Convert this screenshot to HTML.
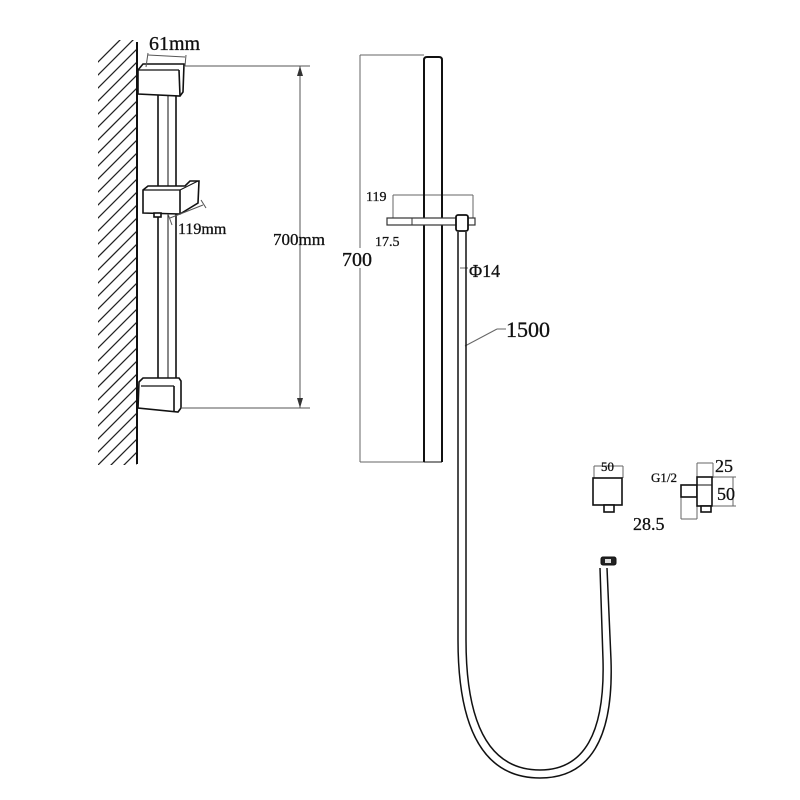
<!DOCTYPE html>
<html><head><meta charset="utf-8"><style>
html,body{margin:0;padding:0;background:#fff}
svg{display:block}
text{font-family:"Liberation Serif","DejaVu Serif",serif;fill:#111;stroke:#111;stroke-width:0.3}
</style></head><body>
<svg width="800" height="800" viewBox="0 0 800 800" xmlns="http://www.w3.org/2000/svg">
<defs>
<clipPath id="wc"><rect x="98" y="40" width="39" height="425"/></clipPath>
</defs>
<g clip-path="url(#wc)" stroke="#222" stroke-width="1.3">
<path d="M90,70 L140,20 M90,83 L140,33 M90,96 L140,46 M90,109 L140,59 M90,122 L140,72 M90,135 L140,85 M90,148 L140,98 M90,161 L140,111 M90,174 L140,124 M90,187 L140,137 M90,200 L140,150 M90,213 L140,163 M90,226 L140,176 M90,239 L140,189 M90,252 L140,202 M90,265 L140,215 M90,278 L140,228 M90,291 L140,241 M90,304 L140,254 M90,317 L140,267 M90,330 L140,280 M90,343 L140,293 M90,356 L140,306 M90,369 L140,319 M90,382 L140,332 M90,395 L140,345 M90,408 L140,358 M90,421 L140,371 M90,434 L140,384 M90,447 L140,397 M90,460 L140,410 M90,473 L140,423 M90,486 L140,436 M90,499 L140,449 M90,512 L140,462"/>
</g>
<line x1="137" y1="42" x2="137" y2="464" stroke="#111" stroke-width="2"/>

<g fill="#fff" stroke="#111" stroke-width="1.6">
<rect x="158" y="92" width="18" height="292"/>
<line x1="168" y1="92" x2="168" y2="384" stroke-width="1"/>
<path d="M138,70 L143,64 L184,64 L183,92 L180,96 L138,94 Z"/>
<line x1="138" y1="70" x2="179" y2="70" stroke-width="1.2"/>
<line x1="179" y1="70" x2="180" y2="96"/>
<path d="M143,190 L148,186 L185,186 L190,181 L199,181 L198,203 L180,214 L143,213 Z"/>
<line x1="143" y1="190" x2="180" y2="190" stroke-width="1.2"/>
<line x1="180" y1="190" x2="180" y2="214"/>
<line x1="180" y1="190" x2="198" y2="181" stroke-width="1"/>
<rect x="154" y="213" width="7" height="4"/>
<path d="M139,382 L143,378 L179,378 L181,381 L181,408 L178,412 L138,408 Z"/>
<line x1="141" y1="386" x2="174" y2="386" stroke-width="1.2"/>
<line x1="174" y1="386" x2="174" y2="412"/>
</g>
<g stroke="#555" stroke-width="1" fill="none">
<line x1="185" y1="66" x2="310" y2="66"/>
<line x1="181" y1="408" x2="310" y2="408"/>
<line x1="300" y1="66" x2="300" y2="408"/>
<line x1="148" y1="55" x2="185" y2="57"/>
<line x1="148" y1="53" x2="146" y2="67"/>
<line x1="186" y1="55" x2="185" y2="66"/>
<line x1="170" y1="218" x2="203" y2="205"/>
<line x1="168" y1="214" x2="172" y2="225"/>
<line x1="201" y1="200" x2="206" y2="208"/>
</g>
<path d="M300,66 L297,76 L303,76 Z M300,408 L297,398 L303,398 Z" fill="#333"/>
<text x="149" y="50" font-size="20">61mm</text>
<text x="178" y="234" font-size="16">119mm</text>
<text x="273" y="245" font-size="17">700mm</text>

<g stroke="#666" stroke-width="1" fill="none">
<line x1="360" y1="55" x2="360" y2="248"/>
<line x1="360" y1="268" x2="360" y2="462"/>
<line x1="360" y1="55" x2="424" y2="55"/>
<line x1="360" y1="462" x2="424" y2="462"/>
<line x1="393" y1="195" x2="473" y2="195"/>
<line x1="393" y1="195" x2="393" y2="220"/>
<line x1="473" y1="195" x2="473" y2="220"/>
<line x1="460" y1="268" x2="468" y2="268"/>
<line x1="465" y1="346" x2="497" y2="329"/>
<line x1="497" y1="329" x2="506" y2="329"/>
</g>
<path d="M424,462 L424,60 Q424,57 427,57 L439,57 Q442,57 442,60 L442,462" fill="none" stroke="#111" stroke-width="2"/>
<line x1="424" y1="462" x2="442" y2="462" stroke="#111" stroke-width="1"/>
<path d="M458,232 L458,640 Q458,778 540,778 Q615,778 611,660 L607,568" fill="none" stroke="#111" stroke-width="1.5"/>
<path d="M466,232 L466,640 Q466,770 540,770 Q606,770 603,660 L600,568" fill="none" stroke="#111" stroke-width="1.5"/>
<rect x="601" y="557" width="15" height="8" rx="2" fill="#222" stroke="#111"/>
<rect x="605" y="559" width="6" height="4" fill="#ddd"/>
<rect x="387" y="218" width="88" height="7" fill="#fff" stroke="#333" stroke-width="1.2"/>
<line x1="412" y1="218" x2="412" y2="225" stroke="#333"/>
<rect x="456" y="215" width="12" height="16" rx="2" fill="#fff" stroke="#111" stroke-width="1.8"/>
<text x="366" y="201" font-size="14">119</text>
<text x="375" y="246" font-size="14">17.5</text>
<text x="342" y="266" font-size="20">700</text>
<text x="469" y="277" font-size="18">Φ14</text>
<text x="506" y="337" font-size="22">1500</text>

<g stroke="#666" stroke-width="1" fill="none">
<line x1="594" y1="466" x2="623" y2="466"/>
<line x1="594" y1="466" x2="594" y2="478"/>
<line x1="623" y1="466" x2="623" y2="478"/>
<line x1="697" y1="463" x2="713" y2="463"/>
<line x1="697" y1="463" x2="697" y2="478"/>
<line x1="713" y1="463" x2="713" y2="478"/>
<line x1="713" y1="477" x2="736" y2="477"/>
<line x1="713" y1="506" x2="736" y2="506"/>
<line x1="733" y1="477" x2="733" y2="506"/>
<line x1="681" y1="497" x2="681" y2="519"/>
<line x1="697" y1="506" x2="697" y2="519"/>
<line x1="681" y1="519" x2="697" y2="519"/>
</g>
<g fill="#fff" stroke="#111" stroke-width="1.6">
<rect x="593" y="478" width="29" height="27"/>
<rect x="604" y="505" width="10" height="7"/>
<rect x="681" y="485" width="16" height="12"/>
<rect x="697" y="477" width="15" height="29"/>
<line x1="697" y1="485" x2="712" y2="485" stroke-width="1"/>
<rect x="701" y="506" width="10" height="6"/>
</g>
<text x="601" y="471" font-size="13" font-family="Liberation Mono">50</text>
<text x="651" y="482" font-size="13" font-family="Liberation Mono">G1/2</text>
<text x="715" y="472" font-size="18">25</text>
<text x="717" y="500" font-size="18">50</text>
<text x="633" y="530" font-size="18">28.5</text>
</svg>
</body></html>
